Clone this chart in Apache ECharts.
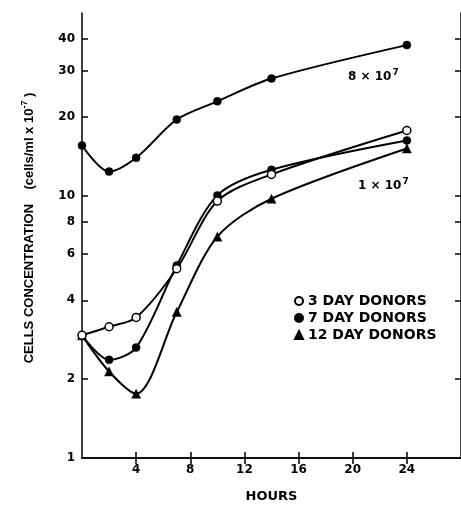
<!DOCTYPE html>
<html>
<head>
<meta charset="utf-8">
<script src="https://cdn.jsdelivr.net/npm/echarts@6/dist/echarts.min.js"></script>
<style>
html,body{margin:0;padding:0;background:#fff;}
#chart{width:461px;height:508px;}
</style>
</head>
<body>
<div id="chart"></div>
<script>
// ---- data ----
const hours = [0, 2, 4, 7, 10, 14, 24];
const high8e7 = [15.6, 12.4, 14.0, 19.6, 23.0, 28.1, 37.7];
const donors3 = [2.94, 3.17, 3.44, 5.28, 9.57, 12.1, 17.8];
const donors7 = [2.94, 2.37, 2.64, 5.43, 10.06, 12.6, 16.3];
const donors12 = [2.94, 2.14, 1.76, 3.61, 7.0, 9.77, 15.2];
const xTickValues = [4, 8, 12, 16, 20, 24];
const yTickValues = [2, 4, 6, 8, 10, 20, 30, 40];
const yLabelValues = [1, 2, 4, 6, 8, 10, 20, 30, 40];
const legendNames = ['3 DAY DONORS', '7 DAY DONORS', '12 DAY DONORS'];

const Y_MIN = 1, Y_MAX = 50, X_MIN = 0, X_MAX = 28;
const FONT = 'DejaVu Sans';
const pairs = (ys) => hours.map((h, i) => [h, ys[i]]);
const lg = (v) => Math.log10(v);

const chart = echarts.init(document.getElementById('chart'), null, {renderer: 'canvas'});

const axisLine = {show: true, lineStyle: {color: '#000', width: 1.5}};
const tickStyle = {color: '#000', width: 1.5};

function lineSeries(name, ys, symbol, fill, z) {
  return {
    name: name,
    type: 'line',
    xAxisIndex: 0,
    yAxisIndex: 0,
    data: pairs(ys),
    smooth: 0.3,
    symbol: symbol,
    symbolSize: symbol === 'triangle' ? 9 : 8,
    showAllSymbol: true,
    clip: false,
    z: z,
    lineStyle: {color: '#000', width: 2},
    itemStyle: {color: fill, borderColor: '#000', borderWidth: fill === '#fff' ? 1.5 : 0.5},
    emphasis: {disabled: true}
  };
}

const supRich = {
  b: {fontFamily: FONT, fontWeight: 'bold', fontSize: 12, fill: '#000'},
  s: {fontFamily: FONT, fontWeight: 'bold', fontSize: 9, fill: '#000', verticalAlign: 'top', padding: [0, 0, 8, 1]}
};

const option = {
  animation: false,
  backgroundColor: '#fff',
  grid: {left: 82, top: 13, width: 381, height: 450, containLabel: false},
  xAxis: [
    {
      type: 'value', position: 'bottom', min: X_MIN, max: X_MAX,
      axisLine: axisLine,
      splitLine: {show: false},
      axisTick: {show: true, inside: true, length: 6, lineStyle: tickStyle, customValues: xTickValues},
      axisLabel: {show: true, customValues: xTickValues, color: '#000', fontFamily: FONT, fontWeight: 'bold', fontSize: 12, margin: 6},
      name: 'HOURS', nameLocation: 'middle', nameGap: 32,
      nameTextStyle: {color: '#000', fontFamily: FONT, fontWeight: 'bold', fontSize: 13}
    },
    {
      type: 'value', position: 'top', min: X_MIN, max: X_MAX,
      axisLine: axisLine,
      splitLine: {show: false},
      axisTick: {show: true, inside: true, length: 6, lineStyle: tickStyle, customValues: xTickValues},
      axisLabel: {show: false}
    }
  ],
  yAxis: [
    {
      // data axis: logarithmic
      type: 'log', logBase: 10, min: Y_MIN, max: Y_MAX, show: false,
      splitLine: {show: false}
    },
    {
      // display axis (left) aligned with the log scale
      type: 'value', position: 'left', min: lg(Y_MIN), max: lg(Y_MAX),
      axisLine: axisLine,
      splitLine: {show: false},
      axisTick: {show: true, inside: true, length: 6, lineStyle: tickStyle, customValues: yTickValues.map(lg)},
      axisLabel: {
        show: true, customValues: yLabelValues.map(lg), margin: 7,
        color: '#000', fontFamily: FONT, fontWeight: 'bold', fontSize: 12,
        formatter: (v) => String(Math.round(Math.pow(10, v)))
      }
    },
    {
      type: 'value', position: 'right', min: lg(Y_MIN), max: lg(Y_MAX),
      axisLine: axisLine,
      splitLine: {show: false},
      axisTick: {show: true, inside: true, length: 6, lineStyle: tickStyle, customValues: yTickValues.map(lg)},
      axisLabel: {show: false}
    }
  ],
  legend: {
    orient: 'vertical', left: 289, top: 289,
    itemWidth: 8, itemHeight: 8, itemGap: 3,
    selectedMode: false,
    textStyle: {color: '#000', fontFamily: FONT, fontWeight: 'bold', fontSize: 14, lineHeight: 14},
    data: [
      {name: legendNames[0], icon: 'circle'},
      {name: legendNames[1], icon: 'circle'},
      {name: legendNames[2], icon: 'triangle'}
    ]
  },
  graphic: [
    {
      type: 'text', x: 348, y: 77, z: 10,
      style: {text: '{b|8 × 10}{s|7}', verticalAlign: 'middle', textAlign: 'left', rich: supRich}
    },
    {
      type: 'text', x: 358, y: 186, z: 10,
      style: {text: '{b|1 × 10}{s|7}', verticalAlign: 'middle', textAlign: 'left', rich: supRich}
    },
    {
      type: 'text', x: 29, y: 228, rotation: Math.PI / 2, z: 10,
      style: {
        text: '{b|CELLS CONCENTRATION}{g|    }{b|(cells/ml x 10}{s|-7}{b| )}',
        textAlign: 'center', verticalAlign: 'middle',
        rich: {
          b: {fontFamily: 'Liberation Sans', fontWeight: 'bold', fontSize: 13, fill: '#000'},
          g: {fontFamily: 'Liberation Sans', fontWeight: 'bold', fontSize: 13, fill: '#000'},
          s: {fontFamily: 'Liberation Sans', fontWeight: 'bold', fontSize: 9, fill: '#000', padding: [0, 0, 9, 0]}
        }
      }
    }
  ],
  series: [
    lineSeries('8 x 10^7', high8e7, 'circle', '#000', 2),
    lineSeries(legendNames[2], donors12, 'triangle', '#000', 3),
    lineSeries(legendNames[1], donors7, 'circle', '#000', 4),
    lineSeries(legendNames[0], donors3, 'circle', '#fff', 5)
  ]
};

chart.setOption(option);
</script>
</body>
</html>
